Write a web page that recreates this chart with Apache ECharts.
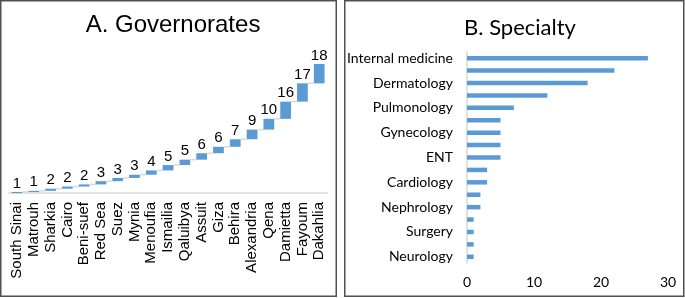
<!DOCTYPE html>
<html>
<head>
<meta charset="utf-8">
<script src="https://cdn.jsdelivr.net/npm/echarts@6/dist/echarts.min.js"></script>
<style>
  html, body { margin: 0; padding: 0; background: #fff; }
  #main { width: 685px; height: 298px; }
</style>
</head>
<body>
<div id="main"></div>
<script>
// panel A: governorates (waterfall)
var govNames = ['South Sinai', 'Matrouh', 'Sharkia', 'Cairo', 'Beni-suef', 'Red Sea', 'Suez', 'Mynia',
  'Menoufia', 'Ismailia', 'Qaluibya', 'Assuit', 'Giza', 'Behira', 'Alexandria', 'Qena', 'Damietta',
  'Fayoum', 'Dakahlia'];
var govValues = [1, 1, 2, 2, 2, 3, 3, 3, 4, 5, 5, 6, 6, 7, 9, 10, 16, 17, 18];

// panel B: specialty (only every other label is shown in the original)
var specNames = ['Internal medicine', '', 'Dermatology', '', 'Pulmonology', '', 'Gynecology', '', 'ENT', '',
  'Cardiology', '', 'Nephrology', '', 'Surgery', '', 'Neurology'];
var specValues = [27, 22, 18, 12, 7, 5, 5, 5, 5, 3, 3, 2, 2, 1, 1, 1, 1];
var specTicks = [0, 10, 20, 30];

var blue = '#5B9BD5';
var fontA = 'Liberation Sans, Arial, sans-serif';
var fontB = 'Lato, Open Sans, sans-serif';

// running start / end for each waterfall step
var waterfall = [];
var run = 0;
govValues.forEach(function (v, i) {
  waterfall.push([i, run, run + v, v]);
  run += v;
});

var myChart = echarts.init(document.getElementById('main'));
var option = {
  animation: false,
  title: [{
    text: 'A. Governorates',
    left: 168,
    top: 8,
    textAlign: 'center',
    textStyle: { fontFamily: fontA, fontSize: 24, fontWeight: 'normal', color: '#000' }
  }, {
    text: 'B. Specialty',
    left: 515,
    top: 12,
    textAlign: 'center',
    textStyle: { fontFamily: fontB, fontSize: 22, fontWeight: 'normal', color: '#000' }
  }],
  graphic: [{
    type: 'rect',
    shape: { x: 0.75, y: 0.75, width: 335.5, height: 295.5 },
    style: { fill: 'none', stroke: '#505050', lineWidth: 1.5 }
  }, {
    type: 'rect',
    shape: { x: 344.75, y: 0.75, width: 339, height: 295.5 },
    style: { fill: 'none', stroke: '#505050', lineWidth: 1.5 }
  }],
  grid: [
    { left: 8.6, width: 319, top: 64, height: 129 },
    { left: 467, right: 17, top: 52, bottom: 35 }
  ],
  xAxis: [{
    gridIndex: 0,
    type: 'category',
    data: govNames,
    axisLine: { lineStyle: { color: '#D9D9D9', width: 1.5 } },
    axisTick: { show: false },
    axisLabel: { rotate: 90, interval: 0, margin: 9, fontFamily: fontA, fontSize: 15, color: '#000' }
  }, {
    gridIndex: 1,
    type: 'value',
    min: specTicks[0],
    max: specTicks[specTicks.length - 1],
    interval: 10,
    splitLine: { show: false },
    axisLine: { show: false },
    axisTick: { show: false },
    axisLabel: { margin: 12, fontFamily: fontB, fontSize: 14, color: '#000' }
  }],
  yAxis: [{
    gridIndex: 0,
    type: 'value',
    min: 0,
    max: 120,
    show: false
  }, {
    gridIndex: 1,
    type: 'category',
    inverse: true,
    data: specNames,
    axisLine: { lineStyle: { color: '#D9D9D9', width: 1.5 } },
    axisTick: { show: false },
    axisLabel: { interval: 0, margin: 14, fontFamily: fontB, fontSize: 14, color: '#000' }
  }],
  series: [{
    type: 'custom',
    xAxisIndex: 0,
    yAxisIndex: 0,
    data: waterfall,
    encode: { x: 0, y: [1, 2] },
    renderItem: function (params, api) {
      var i = api.value(0);
      var p0 = api.coord([i, api.value(1)]);
      var p1 = api.coord([i, api.value(2)]);
      var cw = api.size([1, 0])[0];
      var bw = cw * 0.64;
      var kids = [{
        type: 'rect',
        shape: { x: p0[0] - bw / 2, y: p1[1], width: bw, height: Math.max(p0[1] - p1[1], 1.2) },
        style: { fill: blue }
      }, {
        type: 'text',
        x: p1[0],
        y: p1[1] - 1,
        style: {
          text: String(api.value(3)),
          textAlign: 'center',
          textVerticalAlign: 'bottom',
          font: '15px ' + fontA,
          fill: '#000'
        }
      }];
      if (i < govValues.length - 1) {
        kids.push({
          type: 'line',
          shape: { x1: p1[0] + bw / 2, y1: p1[1], x2: p1[0] + cw - bw / 2, y2: p1[1] },
          style: { stroke: '#D9D9D9', lineWidth: 1.5 }
        });
      }
      return { type: 'group', children: kids };
    }
  }, {
    type: 'bar',
    xAxisIndex: 1,
    yAxisIndex: 1,
    data: specValues,
    barWidth: 4.5,
    itemStyle: { color: blue }
  }]
};
myChart.setOption(option);
</script>
</body>
</html>
